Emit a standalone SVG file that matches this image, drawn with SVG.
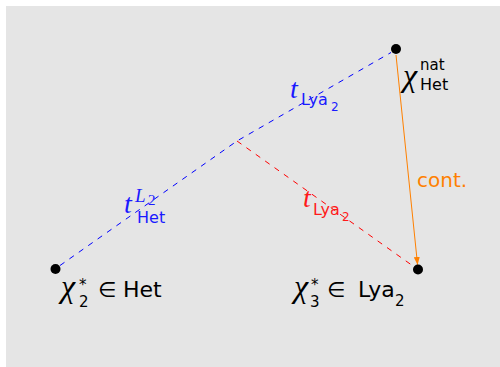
<svg xmlns="http://www.w3.org/2000/svg" width="500" height="367" viewBox="0 0 500 367">
<style>
.node{fill:#000}
.m{font-family:"Liberation Serif","DejaVu Serif",serif;font-style:italic}
.s{font-family:"DejaVu Sans","Liberation Sans",sans-serif}
.blue{fill:#1a1aff}
.red{fill:#ff1a1a}
.dash{fill:none;stroke-width:1;stroke-dasharray:5.5,6}
</style>
<defs>
<marker id="arr" viewBox="0 0 8 6" refX="8" refY="3" markerWidth="8" markerHeight="6" orient="auto" markerUnits="userSpaceOnUse">
<path d="M0,0 L8,3 L0,6 Z" fill="#ff8000"/>
</marker>
</defs>
<rect x="6" y="6" width="494" height="361" fill="#e5e5e5"/>
<g id="connectors">
<polyline class="dash" stroke="#0000ff" points="60,265.5 237,141 391,52.5"/>
<line class="dash" stroke="#ff0000" x1="237" y1="141" x2="413" y2="266"/>
<line x1="396" y1="55" x2="417.6" y2="265" stroke="#ff8000" stroke-width="1" marker-end="url(#arr)"/>
</g>
<g id="node-top">
<circle class="node" cx="396" cy="49" r="5"/>
<text x="403" y="86" class="m" font-size="32">χ</text>
<text x="420" y="70" class="s" font-size="15">nat</text>
<text x="420" y="90" class="s" font-size="16">Het</text>
</g>
<g id="node-left">
<circle class="node" cx="55.5" cy="269" r="5"/>
<text x="61" y="297" class="m" font-size="32">χ</text>
<text x="79" y="290" class="s" font-size="15">*</text>
<text x="79" y="307" class="s" font-size="15">2</text>
<text x="98" y="297" class="s" font-size="21">∈</text>
<text x="123" y="297" class="s" font-size="22">Het</text>
</g>
<g id="node-right">
<circle class="node" cx="418" cy="269.5" r="5"/>
<text x="294" y="297" class="m" font-size="32">χ</text>
<text x="311" y="290" class="s" font-size="15">*</text>
<text x="310" y="307" class="s" font-size="15">3</text>
<text x="327" y="297" class="s" font-size="21">∈</text>
<text x="358" y="297" class="s" font-size="22">Lya</text>
<text x="395" y="306" class="s" font-size="15">2</text>
</g>
<g id="label-top" class="blue">
<text x="290" y="98" class="m" font-size="28">t</text>
<text x="301" y="105" class="s" font-size="16">Lya</text>
<text x="331" y="111" class="s" font-size="12">2</text>
</g>
<g id="label-left" class="blue">
<text x="124" y="213" class="m" font-size="28">t</text>
<text x="135" y="202" class="m" font-size="19">L</text>
<text x="148" y="205" font-family="Liberation Serif,serif" font-size="15">2</text>
<text x="137" y="223" class="s" font-size="16">Het</text>
</g>
<g id="label-red" class="red">
<text x="303" y="207" class="m" font-size="28">t</text>
<text x="313" y="215" class="s" font-size="16">Lya</text>
<text x="342" y="221" class="s" font-size="12">2</text>
</g>
<g id="label-cont">
<text x="417" y="187" class="s" font-size="20" fill="#ff8000">cont.</text>
</g>
</svg>
